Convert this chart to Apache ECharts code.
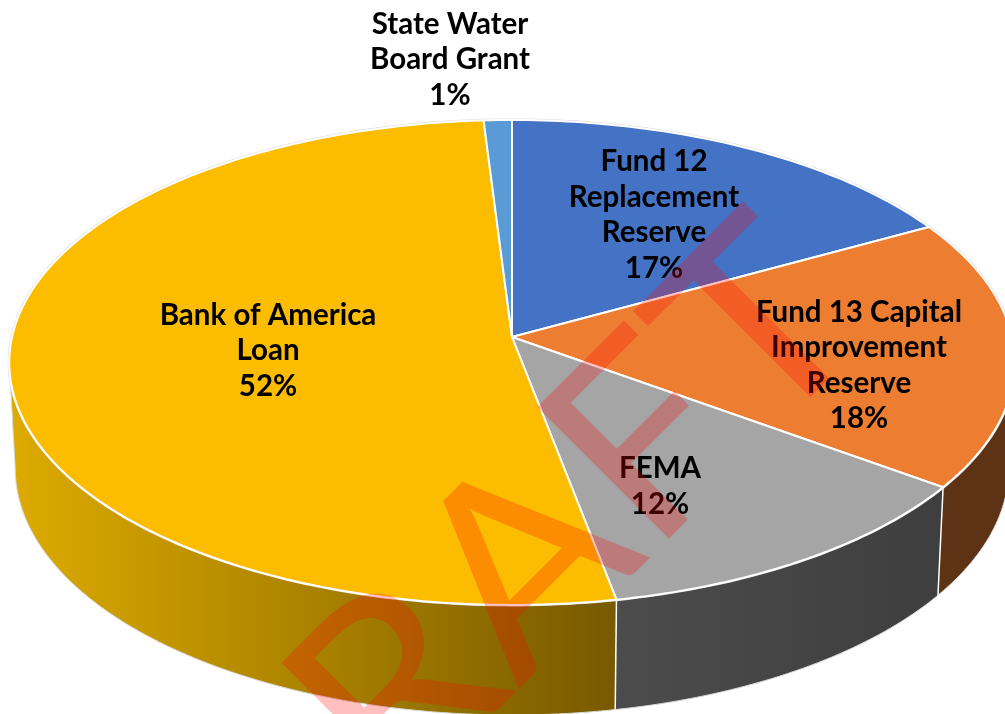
<!DOCTYPE html>
<html>
<head>
<meta charset="utf-8">
<style>html,body{margin:0;padding:0;background:#fff}#chart{width:1005px;height:714px}</style>
<script src="https://cdn.jsdelivr.net/npm/echarts@6/dist/echarts.min.js"></script>
</head>
<body>
<div id="chart"></div>
<script>
// Funding sources, in percent, clockwise from twelve o'clock.
const sources = ['Fund 12\nReplacement\nReserve', 'Fund 13 Capital\nImprovement\nReserve', 'FEMA', 'Bank of America\nLoan', 'State Water\nBoard Grant'];
const shares = [17, 18, 12, 52, 1];

// Fill colours for the top face, and horizontal shading for the rim.
const faceColors = ['#4472C4', '#ED7D31', '#A5A5A5', '#FCBD00', '#5B9BD5'];
const rimColors = [
  ['#264478', '#264478'],
  ['#5E3214', '#5E3214'],
  ['#4C4C4C', '#3E3E3E'],
  ['#DCAA00', '#785A00'],
  ['#2E5F8A', '#2E5F8A']
];
const rimShadeSpan = [[0, 1005], [0, 1005], [608, 945], [16, 612], [0, 1005]];
const labelCenters = [[654, 215], [859, 365.5], [660, 486.5], [268, 350.5], [450, 59.5]];

// Tilted-disc projection: the far side of the pie is foreshortened.
const view = { cx: 512, cy: 337, rx: 500, ry: 239.8, persp: 0.105, drop: 105.5, rimX: 0.988, rimY: 1.017 };

function topPoint(angle) {
  const w = 1 + view.persp * Math.cos(angle);
  return [view.cx + view.rx * Math.sin(angle) / w, view.cy - view.ry * Math.cos(angle) / w];
}
function rimPoint(angle) {
  const p = topPoint(angle);
  return [view.cx + (p[0] - view.cx) * view.rimX, view.cy + (p[1] - view.cy) * view.rimY + view.drop];
}
function arc(from, to, project) {
  const steps = Math.max(2, Math.ceil((to - from) * 180 / Math.PI));
  const pts = [];
  for (let i = 0; i <= steps; i++) pts.push(project(from + (to - from) * i / steps));
  return pts;
}

// The rim is only visible between the two horizontal extremes of the disc.
const nearFrom = Math.acos(-view.persp);
const nearTo = 2 * Math.PI - nearFrom;

const total = shares.reduce((a, b) => a + b, 0);
let running = 0;
const spans = shares.map((v) => {
  const start = running;
  running += v;
  return [start / total * 2 * Math.PI, running / total * 2 * Math.PI];
});
const spanData = spans.map((s, i) => ({ value: [s[0], s[1], shares[i]], name: sources[i] }));

function renderRim(params, api) {
  const i = params.dataIndex;
  const a0 = Math.max(api.value(0), nearFrom);
  const a1 = Math.min(api.value(1), nearTo);
  if (a1 <= a0) return null;
  const upper = arc(a0, a1, topPoint);
  const lower = arc(a0, a1, rimPoint);
  const span = rimShadeSpan[i];
  const outline = a1 === nearTo ? lower.concat([topPoint(a1)]) : lower;
  const children = [{
    type: 'polygon',
    shape: { points: upper.concat(lower.slice().reverse()) },
    style: {
      fill: new echarts.graphic.LinearGradient(span[0], 0, span[1], 0, [
        { offset: 0, color: rimColors[i][0] },
        { offset: 1, color: rimColors[i][1] }
      ], true)
    }
  }, {
    type: 'polyline',
    shape: { points: outline },
    style: { stroke: '#d8d8d8', lineWidth: 1, fill: null }
  }];
  // Seam between neighbouring rim sections on the near side.
  if (api.value(1) < nearTo) {
    const t = topPoint(a1), b = rimPoint(a1);
    children.push({ type: 'line', z2: 5, shape: { x1: t[0], y1: t[1], x2: b[0], y2: b[1] }, style: { stroke: '#fff', lineWidth: 1.5 } });
  }
  return { type: 'group', children };
}

function renderFace(params, api) {
  const i = params.dataIndex;
  const edge = arc(api.value(0), api.value(1), topPoint);
  return {
    type: 'group',
    children: [
      { type: 'polyline', shape: { points: edge }, style: { stroke: '#d8d8d8', lineWidth: 3, fill: null } },
      { type: 'polygon', shape: { points: [[view.cx, view.cy]].concat(edge) }, style: { fill: faceColors[i], stroke: '#fff', lineWidth: 2, lineJoin: 'round' } }
    ]
  };
}

function renderLabel(params, api) {
  const i = params.dataIndex;
  return {
    type: 'text',
    x: labelCenters[i][0],
    y: labelCenters[i][1],
    style: {
      text: sources[i] + '\n' + api.value(2) + '%',
      font: 'bold 29.5px Lato',
      fill: '#000',
      align: 'center',
      verticalAlign: 'middle',
      lineHeight: 35.5
    }
  };
}

const chart = echarts.init(document.getElementById('chart'), null, { renderer: 'canvas' });
chart.setOption({
  animation: false,
  backgroundColor: '#fff',
  series: [
    { type: 'custom', coordinateSystem: 'none', z: 1, silent: true, renderItem: renderRim, data: spanData },
    { type: 'custom', coordinateSystem: 'none', z: 2, silent: true, renderItem: renderFace, data: spanData },
    { type: 'custom', coordinateSystem: 'none', z: 3, silent: true, renderItem: renderLabel, data: spanData }
  ],
  graphic: {
    elements: [{
      type: 'text',
      z: 100,
      silent: true,
      x: 594.5,
      y: 678.5,
      rotation: Math.PI / 4,
      scaleX: 1.067,
      style: {
        text: 'DRAFT',
        font: '260px Lato',
        fill: 'rgba(255,0,0,0.25)',
        align: 'center',
        verticalAlign: 'bottom'
      }
    }]
  }
});
</script>
</body>
</html>
